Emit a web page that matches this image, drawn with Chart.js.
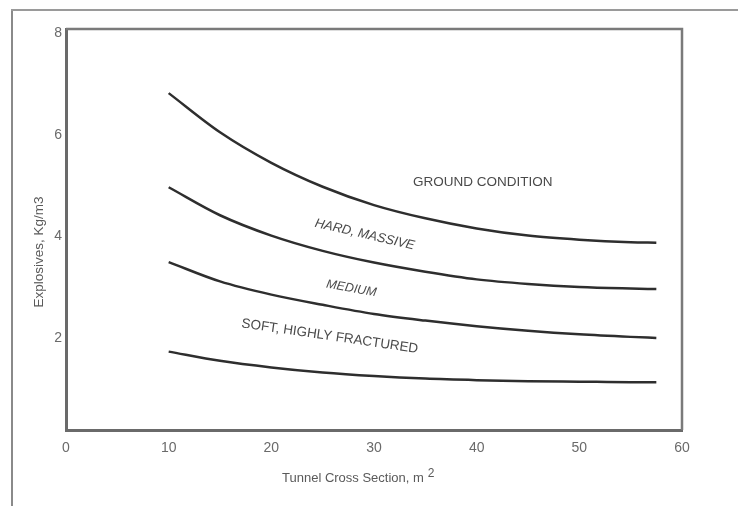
<!DOCTYPE html>
<html>
<head>
<meta charset="utf-8">
<script src="https://cdn.jsdelivr.net/npm/chart.js"></script>
<style>
  body { margin: 0; background: #fff; }
  #wrap { position: relative; width: 738px; height: 506px; }
  .frameLeft { position: absolute; left: 11px; top: 9px; width: 2px; height: 497px; background: #8a8a8a; }
  .frameTop { position: absolute; left: 11px; top: 9px; width: 727px; height: 2px; background: #9a9a9a; }
  #chart { position: absolute; left: 0; top: 0; }
</style>
</head>
<body>
<div id="wrap">
  <div class="frameLeft"></div>
  <div class="frameTop"></div>
  <canvas id="chart" width="738" height="506"></canvas>
</div>
<script>
// tunnel cross section, m2
const sections = [10, 15, 20, 25, 30, 35, 40, 45, 50, 55, 57.5];

// explosives, kg/m3 (top curve to bottom curve)
const curveA = [6.82, 6.05, 5.45, 4.98, 4.62, 4.36, 4.16, 4.02, 3.94, 3.89, 3.88];
const curveB = [4.97, 4.42, 4.02, 3.72, 3.49, 3.31, 3.16, 3.07, 3.01, 2.98, 2.97];
const curveC = [3.5, 3.12, 2.86, 2.66, 2.48, 2.35, 2.24, 2.15, 2.08, 2.03, 2.01];
const curveD = [1.74, 1.56, 1.43, 1.33, 1.26, 1.21, 1.18, 1.16, 1.15, 1.14, 1.14];

const xTicks = [0, 10, 20, 30, 40, 50, 60];
const yTicks = [2, 4, 6, 8];

// text written on the plot, placed in data units
const notes = [
  { text: 'GROUND CONDITION', x: 40.6, y: 5.07, angle: 0, font: '13.5px "Liberation Sans", Arial, sans-serif' },
  { text: 'HARD, MASSIVE', x: 29.1, y: 4.04, angle: 13, font: 'italic 13px "Liberation Sans", Arial, sans-serif' },
  { text: 'MEDIUM', x: 27.8, y: 2.98, angle: 10, font: 'italic 12.5px "Liberation Sans", Arial, sans-serif' },
  { text: 'SOFT, HIGHLY FRACTURED', x: 25.7, y: 2.04, angle: 8.3, font: '13.5px "Liberation Sans", Arial, sans-serif' }
];

function points(ys) {
  return sections.map((s, i) => ({ x: s, y: ys[i] }));
}

const lineStyle = {
  borderColor: '#2e2e2e',
  borderWidth: 2.5,
  pointRadius: 0,
  cubicInterpolationMode: 'monotone',
  fill: false
};

const decorations = {
  id: 'decorations',
  afterDatasetsDraw(chart) {
    const ctx = chart.ctx;
    const a = chart.chartArea;
    const x = chart.scales.x;
    const y = chart.scales.y;

    // top and right edges of the plot box
    ctx.save();
    ctx.strokeStyle = '#7a7a7a';
    ctx.lineWidth = 2.5;
    ctx.beginPath();
    ctx.moveTo(a.left, a.top);
    ctx.lineTo(a.right, a.top);
    ctx.lineTo(a.right, a.bottom);
    ctx.stroke();
    ctx.restore();

    // notes on the curves
    notes.forEach(n => {
      ctx.save();
      ctx.translate(x.getPixelForValue(n.x), y.getPixelForValue(n.y));
      ctx.rotate(n.angle * Math.PI / 180);
      ctx.font = n.font;
      ctx.fillStyle = '#4a4a4a';
      ctx.textAlign = 'center';
      ctx.textBaseline = 'middle';
      ctx.fillText(n.text, 0, 0);
      ctx.restore();
    });

    // axis titles
    ctx.save();
    ctx.fillStyle = '#5a5a5a';
    ctx.font = '13px "Liberation Sans", Arial, sans-serif';
    ctx.textBaseline = 'middle';
    const main = 'Tunnel Cross Section, m';
    ctx.textAlign = 'left';
    ctx.fillText(main, 282, 478);
    const w = ctx.measureText(main).width;
    ctx.font = '12px "Liberation Sans", Arial, sans-serif';
    ctx.fillText('2', 282 + w + 4, 474);

    ctx.translate(39, 252);
    ctx.rotate(-Math.PI / 2);
    ctx.textAlign = 'center';
    ctx.font = '13.5px "Liberation Sans", Arial, sans-serif';
    ctx.fillText('Explosives, Kg/m3', 0, 0);
    ctx.restore();
  }
};

new Chart(document.getElementById('chart'), {
  type: 'line',
  data: {
    datasets: [
      Object.assign({ data: points(curveA) }, lineStyle),
      Object.assign({ data: points(curveB) }, lineStyle),
      Object.assign({ data: points(curveC) }, lineStyle),
      Object.assign({ data: points(curveD) }, lineStyle)
    ]
  },
  options: {
    responsive: false,
    animation: false,
    layout: { padding: { left: 0, top: 29, right: 56, bottom: 0 } },
    plugins: { legend: { display: false }, tooltip: { enabled: false } },
    scales: {
      x: {
        type: 'linear',
        min: 0,
        max: 60,
        grid: { display: false, drawTicks: false },
        border: { color: '#6a6a6a', width: 3 },
        afterBuildTicks: s => { s.ticks = xTicks.map(v => ({ value: v })); },
        afterFit: s => { s.height = 76; },
        ticks: {
          color: '#6a6a6a',
          padding: 10,
          maxRotation: 0,
          font: { family: '"Liberation Sans", Arial, sans-serif', size: 14 }
        }
      },
      y: {
        min: 0.2,
        max: 8.08,
        grid: { display: false, drawTicks: false },
        border: { color: '#6a6a6a', width: 3 },
        afterBuildTicks: s => { s.ticks = yTicks.map(v => ({ value: v })); },
        afterFit: s => { s.width = 66; },
        ticks: {
          color: '#6a6a6a',
          padding: 4,
          font: { family: '"Liberation Sans", Arial, sans-serif', size: 14 }
        }
      }
    }
  },
  plugins: [decorations]
});
</script>
</body>
</html>
